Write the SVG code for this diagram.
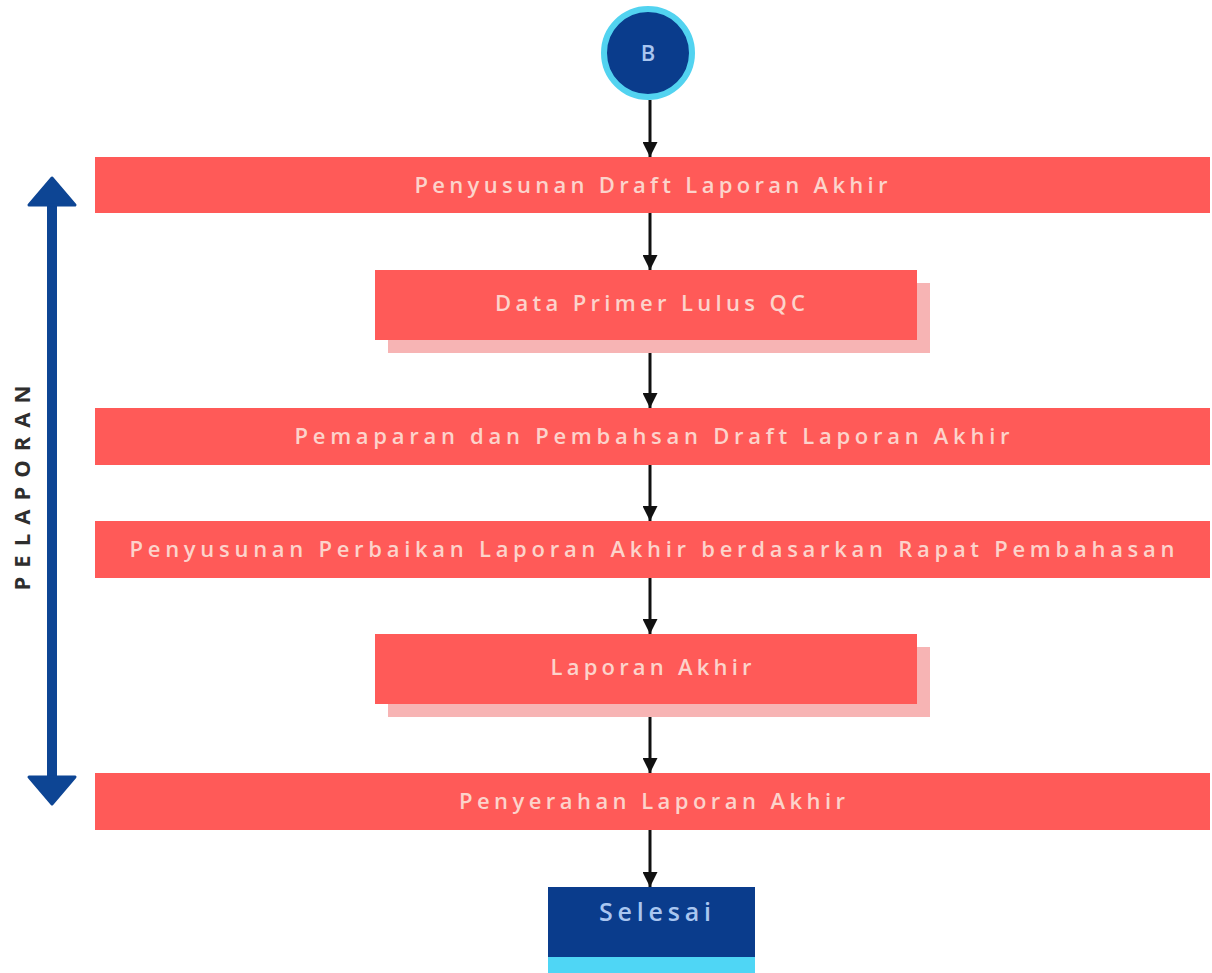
<svg xmlns="http://www.w3.org/2000/svg" width="1212" height="973" viewBox="0 0 1212 973">
  <style>
    .step { fill: #ff5a58; }
    .shadow { fill: #f7b4b4; }
    .label { font-family: "Open Sans", "Liberation Sans", sans-serif; font-size: 22px; fill: #fcd3cb; text-anchor: middle; font-weight: 600; }
    .flow { stroke: #111; stroke-width: 3; fill: none; marker-end: url(#tip); }
    .span { stroke: #0d4594; stroke-width: 10; fill: none; }
  </style>
  <defs>
    <marker id="tip" viewBox="0 0 10 10" refX="10" refY="5" markerWidth="5" markerHeight="5" orient="auto" markerUnits="strokeWidth">
      <path d="M0,0 L10,5 L0,10 z" fill="#111"/>
    </marker>
  </defs>
  <rect width="1212" height="973" fill="#ffffff"/>

  <!-- phase bracket -->
  <g id="phase">
    <line class="span" x1="52" y1="200" x2="52" y2="785"/>
    <path d="M52,178 L75,205 L29,205 z" fill="#0d4594" stroke="#0d4594" stroke-width="3" stroke-linejoin="round"/>
    <path d="M52,804 L75,777 L29,777 z" fill="#0d4594" stroke="#0d4594" stroke-width="3" stroke-linejoin="round"/>
    <text transform="translate(30,488) rotate(-90)" font-family="'Open Sans', 'Liberation Sans', sans-serif" font-size="22" font-weight="700" fill="#2e2e2e" text-anchor="middle" textLength="205" lengthAdjust="spacing">PELAPORAN</text>
  </g>

  <g id="connectors">
    <line class="flow" x1="650" y1="100" x2="650" y2="157"/>
    <line class="flow" x1="650" y1="213" x2="650" y2="270"/>
    <line class="flow" x1="650" y1="353" x2="650" y2="408"/>
    <line class="flow" x1="650" y1="465" x2="650" y2="521"/>
    <line class="flow" x1="650" y1="578" x2="650" y2="634"/>
    <line class="flow" x1="650" y1="717" x2="650" y2="773"/>
    <line class="flow" x1="650" y1="830" x2="650" y2="887"/>
  </g>

  <g id="start">
    <circle cx="648" cy="53" r="44" fill="#0a3c8c" stroke="#52d3f0" stroke-width="6"/>
    <text x="648" y="61" font-family="'Open Sans', 'Liberation Sans', sans-serif" font-size="22" font-weight="600" fill="#a9c6f0" text-anchor="middle">B</text>
  </g>

  <g id="draft">
    <rect class="step" x="95" y="157" width="1115" height="56"/>
    <text class="label" x="651" y="193" textLength="473" lengthAdjust="spacing">Penyusunan Draft Laporan Akhir</text>
  </g>

  <g id="qc">
    <rect class="shadow" x="388" y="283" width="542" height="70"/>
    <rect class="step" x="375" y="270" width="542" height="70"/>
    <text class="label" x="650" y="311" textLength="310" lengthAdjust="spacing">Data Primer Lulus QC</text>
  </g>

  <g id="paparan">
    <rect class="step" x="95" y="408" width="1115" height="57"/>
    <text class="label" x="652" y="444" textLength="715" lengthAdjust="spacing">Pemaparan dan Pembahsan Draft Laporan Akhir</text>
  </g>

  <g id="perbaikan">
    <rect class="step" x="95" y="521" width="1115" height="57"/>
    <text class="label" x="652" y="557" textLength="1045" lengthAdjust="spacing">Penyusunan Perbaikan Laporan Akhir berdasarkan Rapat Pembahasan</text>
  </g>

  <g id="akhir">
    <rect class="shadow" x="388" y="647" width="542" height="70"/>
    <rect class="step" x="375" y="634" width="542" height="70"/>
    <text class="label" x="651" y="675" textLength="201" lengthAdjust="spacing">Laporan Akhir</text>
  </g>

  <g id="penyerahan">
    <rect class="step" x="95" y="773" width="1115" height="57"/>
    <text class="label" x="652" y="809" textLength="386" lengthAdjust="spacing">Penyerahan Laporan Akhir</text>
  </g>

  <g id="end">
    <rect x="548" y="887" width="207" height="70" fill="#0a3c8c"/>
    <rect x="548" y="957" width="207" height="16" fill="#4fd6f5"/>
    <text x="655" y="921" font-family="'Open Sans', 'Liberation Sans', sans-serif" font-size="25" font-weight="600" fill="#a9c6f0" text-anchor="middle" textLength="112" lengthAdjust="spacing">Selesai</text>
  </g>
</svg>
